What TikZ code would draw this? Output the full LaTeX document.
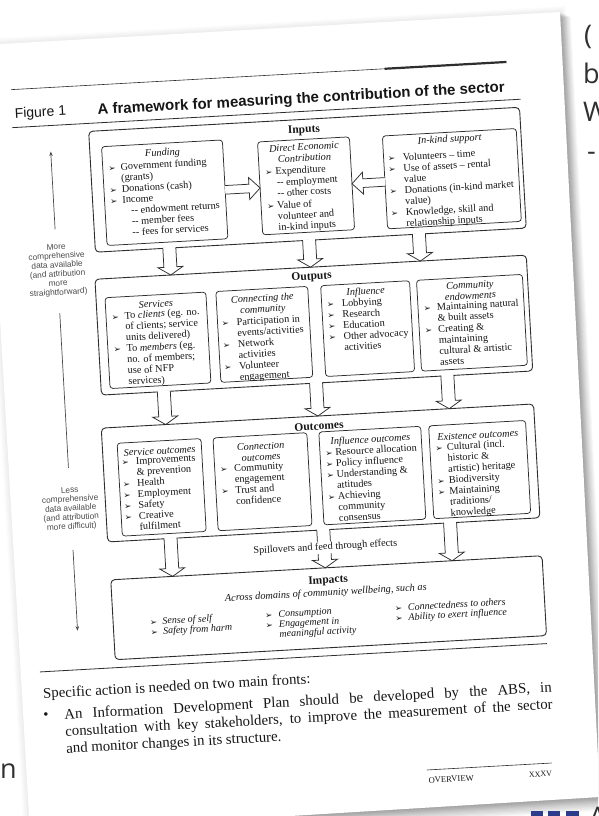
\documentclass[tikz,border=0pt]{standalone}
\usepackage{fontspec}
\setmainfont{Liberation Serif}
\newfontfamily\arialf{Liberation Sans}
\newfontfamily\dvs{DejaVu Sans}
\newfontfamily\osans{Open Sans}
\usetikzlibrary{arrows.meta}
\definecolor{ink}{HTML}{161616}
\definecolor{lin}{HTML}{2E2E2E}
\definecolor{side}{HTML}{4A4A4A}
\definecolor{outt}{HTML}{303030}
\definecolor{blu}{HTML}{2B3C8C}
\newcommand\bul[1][12]{\makebox[#1pt][l]{\upshape\dvs\fontsize{8.6}{8.6}\selectfont\raisebox{-0.3pt}{➢}}}
\newcommand\ind[1][12]{\hspace*{#1pt}}
% down block arrow: x, ytop, ytip
\newcommand\darr[3]{%
  \fill[white] ({#1-6.5},{#2-1}) -- ({#1-6.5},{#3-8}) -- ({#1-12.5},{#3-8}) -- (#1,#3) -- ({#1+12.5},{#3-8}) -- ({#1+6.5},{#3-8}) -- ({#1+6.5},{#2-1}) -- cycle;
  \draw[arr] ({#1-6.5},{#2-0.4}) -- ({#1-6.5},{#3-8}) -- ({#1-12.5},{#3-8}) -- (#1,#3) -- ({#1+12.5},{#3-8}) -- ({#1+6.5},{#3-8}) -- ({#1+6.5},{#2-0.4});}
% right block arrow: x1, x2(tip), y
\newcommand\rarr[3]{%
  \fill[white] (#1,{#3-4.3}) -- ({#2-11},{#3-4.3}) -- ({#2-11},{#3-11}) -- (#2,#3) -- ({#2-11},{#3+11}) -- ({#2-11},{#3+4.3}) -- (#1,{#3+4.3}) -- cycle;
  \draw[arr] (#1,{#3-4.3}) -- ({#2-11},{#3-4.3}) -- ({#2-11},{#3-11}) -- (#2,#3) -- ({#2-11},{#3+11}) -- ({#2-11},{#3+4.3}) -- (#1,{#3+4.3});}
% left block arrow: x1, x2(tip), y
\newcommand\larr[3]{%
  \fill[white] (#1,{#3-4.3}) -- ({#2+11},{#3-4.3}) -- ({#2+11},{#3-11}) -- (#2,#3) -- ({#2+11},{#3+11}) -- ({#2+11},{#3+4.3}) -- (#1,{#3+4.3}) -- cycle;
  \draw[arr] (#1,{#3-4.3}) -- ({#2+11},{#3-4.3}) -- ({#2+11},{#3-11}) -- (#2,#3) -- ({#2+11},{#3+11}) -- ({#2+11},{#3+4.3}) -- (#1,{#3+4.3});}
\begin{document}
\begin{tikzpicture}[x=1pt,y=-1pt,
  obox/.style={draw=lin, line width=0.9pt, rounded corners=4pt, inner sep=0pt, outer sep=0pt, anchor=north west},
  ibox/.style={draw=lin, line width=0.75pt, rounded corners=3pt, inner sep=0pt, outer sep=0pt, anchor=north west},
  hd/.style={font=\bfseries\fontsize{11.5}{12}\selectfont, text=ink, inner sep=0pt},
  ti/.style={font=\itshape\fontsize{10.3}{11}\selectfont, text=ink, inner sep=0pt, align=center},
  bd/.style={font=\fontsize{10.3}{11}\selectfont, text=ink, inner sep=0pt, align=left, anchor=north west},
  imb/.style={font=\itshape\fontsize{10}{10}\selectfont, text=ink, inner sep=0pt, align=left, anchor=north west},
  arr/.style={draw=lin, line width=0.75pt, line join=miter},
  lt/.style={font=\arialf\fontsize{8.3}{9.1}\selectfont, text=side, align=center, inner sep=0pt},
  thinarr/.style={draw=side, line width=0.7pt},
  bodyt/.style={font=\fontsize{14.8}{17}\selectfont, text=ink, inner sep=0pt},
  outside/.style={font=\osans\fontsize{27}{27}\selectfont, text=outt, inner sep=0pt}]
\useasboundingbox (0,0) rectangle (598,816);
\clip (0,0) rectangle (598,816);
\fill[white] (0,0) rectangle (598,816);
% soft halo and shadow of the page
\foreach \k in {1,...,6}{
  \fill[black, opacity=0.012] ({-16-\k},{45-\k}) -- ({560+\k},{12-\k}) -- ({600+\k},{797+\k}) -- ({30-\k},{832+\k}) -- cycle;}
\foreach \k in {1,...,12}{
  \fill[black, opacity=0.028] ({-16+0.5*\k},{45+0.4*\k}) -- ({560+0.9*\k},{12+0.4*\k}) -- ({600+1.0*\k},{797+1.1*\k}) -- ({30+0.3*\k},{832+1.1*\k}) -- cycle;}
\fill[white] (-16,45) -- (560,12) -- (600,797) -- (30,832) -- cycle;
% text of the page underneath
\node[outside, anchor=base west] (o1) at (584,45) {(};
\node[outside, anchor=base west] (o2) at (583,84) {b};
\node[outside, anchor=base west] (o3) at (583,121.5) {W};
\node[outside, anchor=base west] (o4) at (587,160) {-};
\node[outside, anchor=base east] (o5) at (17,778) {un};
\node[outside, anchor=base west] (o6) at (589,826) {A};
\fill[blu] (531,811) rectangle (543,817);
\fill[blu] (548,811) rectangle (560,817);
\fill[blu] (566,811) rectangle (579,817);

\begin{scope}[rotate around={3.2:(300,400)}, transform shape]
% header
\draw[lin, line width=0.6pt] (29,74) -- (525,74);
\draw[lin, line width=2.2pt] (403,74) -- (525,74);
\node[anchor=west, font=\arialf\fontsize{14}{14}\selectfont, text=ink, inner sep=0pt] (fig) at (31,99) {Figure 1};
\node[anchor=west, font=\arialf\bfseries\fontsize{15}{15}\selectfont, text=ink, inner sep=0pt] (title) at (114,100) {A framework for measuring the contribution of the sector};
\draw[lin, line width=0.8pt] (28,112) -- (537,112);

% left column
\coordinate (u1) at (65,216); \coordinate (u2) at (65,138);
\draw[thinarr, -{Stealth[length=4.5pt,width=3.5pt]}] (u1) -- (u2);
\node[lt] (moreT) at (65,257) {More\\comprehensive\\data available\\(and attribution\\more\\straightforward)};
\coordinate (m1) at (65,300); \coordinate (m2) at (65,455);
\draw[thinarr] (m1) -- (m2);
\node[lt] (lessT) at (65,496) {Less\\comprehensive\\data available\\(and attribution\\more difficult)};
\coordinate (d1) at (65,537); \coordinate (d2) at (65,618);
\draw[thinarr, -{Stealth[length=4.5pt,width=3.5pt]}] (d1) -- (d2);

% ---------------- Inputs
\node[obox, minimum width=431.5pt, minimum height=121pt] (inputs) at (104,120) {};
\node[hd] (inputsL) at (319,131) {Inputs};
\node[ibox, minimum width=121pt, minimum height=99pt] (fund) at (116,136) {};
\node[ti] (fundT) at (176.5,146) {Funding};
\node[bd] (fundB) at (121.4,153) {\bul[12.3]Government funding\\\ind[12.3](grants)\\\bul[12.3]Donations (cash)\\\bul[12.3]Income\\\ind[20.5]-{}- endowment returns\\\ind[20.5]-{}- member fees\\\ind[20.5]-{}- fees for services};
\node[ibox, minimum width=92pt, minimum height=93pt] (dec) at (272,140) {};
\node[ti] (decT) at (318,153) {Direct Economic\\Contribution};
\node[bd] (decB) at (277.8,166.5) {\bul[10.2]Expenditure\\\ind[11]-{}- employment\\\ind[11]-{}- other costs\\[1pt]\bul[10.2]Value of\\\ind[10.2]volunteer and\\\ind[10.2]in-kind inputs};
\node[ibox, minimum width=134pt, minimum height=93pt] (ink) at (397,141) {};
\node[ti] (inkT) at (464,148.5) {In-kind support};
\node[bd] (inkB) at (401,159.5) {\bul[15]Volunteers – time\\\bul[15]Use of assets – rental\\\ind[15]value\\\bul[15]Donations (in-kind market\\\ind[15]value)\\\bul[15]Knowledge, skill and\\\ind[15]relationship inputs};
\rarr{237}{272}{186}
\larr{397}{364}{187}
\darr{178}{241}{268}
\darr{318}{241}{268}
\darr{428}{241}{268}

% ---------------- Outputs
\node[obox, minimum width=432pt, minimum height=116pt] (outputs) at (102,268) {};
\node[hd] (outputsL) at (318.5,278) {Outputs};
\node[ibox, minimum width=101pt, minimum height=91pt] (serv) at (111,287) {};
\node[ti] (servT) at (161.5,296) {Services};
\node[bd] (servB) at (116.5,302) {\bul[13]To \textit{clients} (eg. no.\\\ind[13]of clients; service\\\ind[13]units delivered)\\\bul[13]To \textit{members} (eg.\\\ind[13]no. of members;\\\ind[13]use of NFP\\\ind[13]services)};
\node[ibox, minimum width=92pt, minimum height=91pt] (conn) at (222,287) {};
\node[ti] (connT) at (268,302.5) {Connecting the\\community};
\node[bd] (connB) at (226,315) {\bul[15]Participation in\\\ind[15]events/activities\\\bul[15]Network\\\ind[15]activities\\\bul[15]Volunteer\\\ind[15]engagement};
\node[ibox, minimum width=89pt, minimum height=91pt] (infl) at (327,287) {};
\node[ti] (inflT) at (371.5,296) {Influence};
\node[bd] (inflB) at (332,302) {\bul[15]Lobbying\\\bul[15]Research\\\bul[15]Education\\\bul[15]Other advocacy\\\ind[15]activities};
\node[ibox, minimum width=106pt, minimum height=91pt] (comm) at (423,287) {};
\node[ti] (commT) at (476,300) {Community\\endowments};
\node[bd] (commB) at (428.5,311) {\bul[13.3]Maintaining natural\\\ind[13.3]\& built assets\\\bul[13.3]Creating \&\\\ind[13.3]maintaining\\\ind[13.3]cultural \& artistic\\\ind[13.3]assets};
\darr{164.5}{384}{417}
\darr{317}{384}{417}
\darr{448.5}{384}{417}

% ---------------- Outcomes
\node[obox, minimum width=433pt, minimum height=114pt] (outc) at (100,417) {};
\node[hd] (outcL) at (317.5,427) {Outcomes};
\node[ibox, minimum width=84pt, minimum height=93pt] (so) at (115,433) {};
\node[ti] (soT) at (157,443) {Service outcomes};
\node[bd] (soB) at (118.3,448) {\bul[14.3]Improvements\\\ind[14.3]\& prevention\\\bul[14.3]Health\\\bul[14.3]Employment\\\bul[14.3]Safety\\\bul[14.3]Creative\\\ind[14.3]fulfilment};
\node[ibox, minimum width=94pt, minimum height=93pt] (co) at (211,433) {};
\node[ti] (coT) at (258,449.5) {Connection\\outcomes};
\node[bd] (coB) at (216.3,461) {\bul[14]Community\\\ind[14]engagement\\\bul[14]Trust and\\\ind[14]confidence};
\node[ibox, minimum width=102pt, minimum height=93pt] (io) at (317,433) {};
\node[ti] (ioT) at (368,444) {Influence outcomes};
\node[bd] (ioB) at (322.2,450) {\bul[10]Resource allocation\\\bul[10]Policy influence\\\bul[10]Understanding \&\\\ind[10]attitudes\\\bul[10]Achieving\\\ind[10]community\\\ind[10]consensus};
\node[ibox, minimum width=97pt, minimum height=93pt] (eo) at (427,433) {};
\node[ti] (eoT) at (475.5,445) {Existence outcomes};
\node[bd] (eoB) at (432.4,451) {\bul[11.6]Cultural (incl.\\\ind[11.6]historic \&\\\ind[11.6]artistic) heritage\\\bul[11.6]Biodiversity\\\bul[11.6]Maintaining\\\ind[11.6]traditions/\\\ind[11.6]knowledge};
\darr{163}{531}{569}
\darr{316}{531}{569}
\darr{443}{531}{569}
\node[fill=white, inner sep=1.5pt, font=\fontsize{10.3}{11}\selectfont, text=ink] (spill) at (317,548.5) {Spillovers and feed through effects};

% ---------------- Impacts
\node[obox, minimum width=432pt, minimum height=80pt] (imp) at (101,569) {};
\node[hd] (impL) at (318,582) {Impacts};
\node[ti] (impS) at (315,594.5) {Across domains of community wellbeing, such as};
\node[imb] (imp1) at (137.7,609) {\bul[12.5]Sense of self\\\bul[12.5]Safety from harm};
\node[imb] (imp2) at (253,609) {\bul[13.3]Consumption\\\bul[13.3]Engagement in\\\ind[13.3]meaningful activity};
\node[imb] (imp3) at (383,609) {\bul[13]Connectedness to others\\\bul[13]Ability to exert influence};

% ---------------- text below the figure
\draw[lin, line width=0.8pt] (25,657) -- (533,657);
\node[bodyt, anchor=west] (spec) at (27,680) {Specific action is needed on two main fronts:};
\node[bodyt, anchor=west] (dot) at (26,701.5) {•};
\node[bodyt, anchor=north west, align=left] (para) at (47,695) {\makebox[488pt][s]{An Information Development Plan should be developed by the ABS, in}\\\makebox[488pt][s]{consultation with key stakeholders, to improve the measurement of the sector}\\and monitor changes in its structure.};
\draw[lin, line width=0.6pt] (406,776.5) -- (531,776.5);
\node[anchor=west, font=\fontsize{8.6}{9}\selectfont, text=ink, inner sep=0pt] (ov) at (407,787) {OVERVIEW};
\node[anchor=east, font=\fontsize{8}{9}\selectfont, text=ink, inner sep=0pt] (pg) at (531,787) {XXXV};
\end{scope}
\end{tikzpicture}
\end{document}
